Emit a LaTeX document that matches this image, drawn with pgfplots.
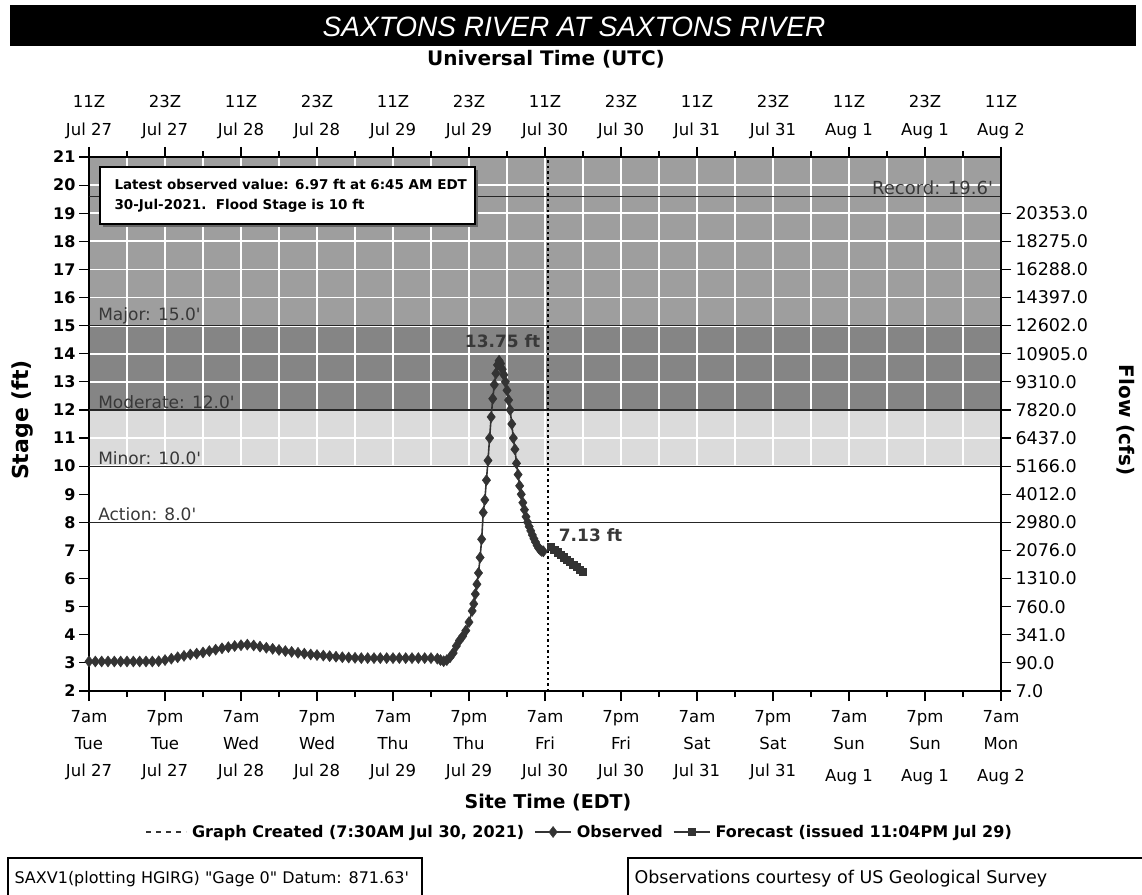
\documentclass[border=0pt]{standalone}
\usepackage{fontspec}
\setmainfont{DejaVu Sans}
\newfontfamily\titlefont{Liberation Sans}
\usepackage{pgfplots}
\pgfplotsset{compat=1.18}
\definecolor{bandMajor}{gray}{0.62}
\definecolor{bandMod}{gray}{0.52}
\definecolor{bandMin}{gray}{0.86}
\definecolor{dataC}{gray}{0.2}
\definecolor{lblC}{gray}{0.22}
\newcommand{\sq}{\textquotesingle}
\pgfplotstableread{
h s
0 3.05
1 3.05
2 3.05
3 3.05
4 3.05
5 3.05
6 3.05
7 3.05
8 3.05
9 3.05
10 3.05
11 3.06
12 3.10
13 3.15
14 3.20
15 3.25
16 3.30
17 3.33
18 3.37
19 3.42
20 3.47
21 3.52
22 3.56
23 3.60
24 3.63
25 3.65
26 3.62
27 3.58
28 3.54
29 3.50
30 3.46
31 3.42
32 3.39
33 3.36
34 3.33
35 3.30
36 3.28
37 3.26
38 3.24
39 3.22
40 3.20
41 3.19
42 3.18
43 3.17
44 3.17
45 3.17
46 3.17
47 3.17
48 3.17
49 3.17
50 3.17
51 3.17
52 3.17
53 3.17
54 3.17
55 3.15
55.5 3.10
56 3.06
56.5 3.10
57 3.20
57.5 3.35
58 3.60
58.5 3.80
59 3.95
59.5 4.15
60 4.45
60.5 4.85
60.75 5.10
61 5.45
61.25 5.80
61.5 6.20
61.75 6.75
62 7.40
62.25 8.35
62.5 8.80
62.75 9.50
63 10.20
63.25 11.00
63.5 11.75
63.75 12.40
64 12.90
64.25 13.30
64.5 13.60
64.75 13.75
65 13.65
65.25 13.45
65.5 13.25
65.75 13.00
66 12.70
66.25 12.35
66.5 12.00
66.75 11.50
67 11.00
67.25 10.60
67.5 10.10
67.75 9.70
68 9.30
68.25 9.00
68.5 8.70
68.75 8.45
69 8.20
69.25 8.00
69.5 7.85
69.75 7.70
70 7.55
70.25 7.42
70.5 7.30
70.75 7.18
71 7.08
71.25 7.02
71.5 6.98
71.75 6.97
}\observed
\pgfplotstableread{
h s
73 7.13
73.5 7.03
74 6.93
74.5 6.84
75 6.75
75.5 6.66
76 6.58
76.5 6.49
77 6.40
77.5 6.31
78 6.22
}\forecast
\begin{document}
\begin{tikzpicture}[x=1pt,y=1pt]
\useasboundingbox (0,0) rectangle (1142,894);
% title bar
\fill[black] (10,848) rectangle (1136,889);
\node[white,font=\titlefont\itshape\fontsize{28}{32}\selectfont] at (574,867) {SAXTONS RIVER AT SAXTONS RIVER};
\node[font=\bfseries\fontsize{20}{24}\selectfont] at (546,835) {Universal Time (UTC)};
% background bands axis
\begin{axis}[
  at={(89pt,203pt)}, anchor=south west,
  scale only axis, width=912pt, height=534pt,
  xmin=0, xmax=144, ymin=2, ymax=21,
  hide axis,
]
\fill[bandMajor] (axis cs:0,15) rectangle (axis cs:144,21);
\fill[bandMod] (axis cs:0,12) rectangle (axis cs:144,15);
\fill[bandMin] (axis cs:0,10) rectangle (axis cs:144,12);
\end{axis}
% main axis
\begin{axis}[
  at={(89pt,203pt)}, anchor=south west,
  scale only axis, width=912pt, height=534pt,
  xmin=0, xmax=144, ymin=2, ymax=21,
  axis line style={line width=1.4pt},
  tick align=outside,
  xtick pos=lower, ytick pos=left,
  xtick={0,12,...,144},
  minor xtick={6,18,...,138},
  ytick={2,...,21},
  major tick length=10pt, minor tick length=6pt,
  every tick/.style={black, line width=1.2pt},
  grid=both,
  major grid style={white, line width=1.8pt},
  minor grid style={white, line width=1.8pt},
  xticklabels={{7am\\Tue\\Jul 27},{7pm\\Tue\\Jul 27},{7am\\Wed\\Jul 28},{7pm\\Wed\\Jul 28},{7am\\Thu\\Jul 29},{7pm\\Thu\\Jul 29},{7am\\Fri\\Jul 30},{7pm\\Fri\\Jul 30},{7am\\Sat\\Jul 31},{7pm\\Sat\\Jul 31},{7am\\Sun\\[5pt]Aug 1},{7pm\\Sun\\[5pt]Aug 1},{7am\\Mon\\[5pt]Aug 2}},
  xticklabel style={align=center, font=\fontsize{16.5}{27}\selectfont, yshift=-6pt},
  /pgf/number format/assume math mode=true,
  yticklabel style={font=\bfseries\fontsize{16}{18}\selectfont},
  legend columns=3,
  legend style={draw=none, fill=none, at={(0.538,-0.264)}, anchor=center,
    font=\bfseries\fontsize{16}{18}\selectfont,
    /tikz/every odd column/.append style={column sep=3pt},
    /tikz/every even column/.append style={column sep=8pt}},
  legend image code/.code={\draw[mark repeat=2, mark phase=2, #1] plot coordinates {(0pt,0pt) (18pt,0pt) (36pt,0pt)};},
  legend cell align=left,
]
% threshold lines
\addplot[forget plot, black!85, line width=1.3pt] coordinates {(0,8) (144,8)};
\addplot[forget plot, black!85, line width=1.3pt] coordinates {(0,10) (144,10)};
\addplot[forget plot, black!85, line width=1.3pt] coordinates {(0,12) (144,12)};
\addplot[forget plot, black!85, line width=1.3pt] coordinates {(0,15) (144,15)};
\addplot[forget plot, black!85, line width=1.3pt] coordinates {(0,19.6) (144,19.6)};
% graph created line
\addplot[black, line width=1.6pt, dash pattern=on 2.5pt off 3pt,
  legend image code/.code={\draw[black!80, line width=1.6pt, dash pattern=on 5pt off 5pt] (0pt,0pt) -- (40pt,0pt);}]
  coordinates {(72.5,2) (72.5,21)};
\addlegendentry{Graph Created (7:30AM Jul 30, 2021)}
% observed
\addplot[dataC, line width=1.6pt, mark=diamond*, mark size=5.5pt, mark options={fill=dataC, draw=dataC, line width=0.5pt}] table[x=h, y=s] {\observed};
\addlegendentry{Observed}
% forecast
\addplot[dataC, line width=1.6pt, mark=square*, mark size=3.3pt, mark options={fill=dataC, draw=dataC}] table[x=h, y=s] {\forecast};
\addlegendentry{Forecast (issued 11:04PM Jul 29)}
% labels
\node[lblC, font=\fontsize{17}{19}\selectfont, anchor=south west, inner sep=1.5pt] at (axis cs:1.2,8) {Action: 8.0\sq};
\node[lblC, font=\fontsize{17}{19}\selectfont, anchor=south west, inner sep=1.5pt] at (axis cs:1.2,10) {Minor: 10.0\sq};
\node[lblC, font=\fontsize{17}{19}\selectfont, anchor=south west, inner sep=1.5pt] at (axis cs:1.2,12) {Moderate: 12.0\sq};
\node[lblC, font=\fontsize{17}{19}\selectfont, anchor=south west, inner sep=1.5pt] at (axis cs:1.2,15) {Major: 15.0\sq};
\node[lblC, font=\fontsize{18}{20}\selectfont, anchor=south east, inner sep=1.5pt] at (axis cs:143,19.6) {Record: 19.6\sq};
\node[lblC, font=\bfseries\fontsize{17}{19}\selectfont] at (axis cs:65.3,14.45) {13.75 ft};
\node[lblC, font=\bfseries\fontsize{17}{19}\selectfont] at (axis cs:79.2,7.55) {7.13 ft};
\end{axis}
% secondary axis: UTC on top, flow on right
\begin{axis}[
  at={(89pt,203pt)}, anchor=south west,
  scale only axis, width=912pt, height=534pt,
  xmin=0, xmax=144, ymin=2, ymax=21,
  axis x line*=top, axis y line*=right,
  axis line style={line width=1.4pt, -},
  tick align=outside,
  xtick={0,12,...,144},
  minor xtick={6,18,...,138},
  ytick={2,...,19},
  major tick length=10pt, minor tick length=6pt,
  every tick/.style={black, line width=1.2pt},
  xticklabels={{11Z\\Jul 27},{23Z\\Jul 27},{11Z\\Jul 28},{23Z\\Jul 28},{11Z\\Jul 29},{23Z\\Jul 29},{11Z\\Jul 30},{23Z\\Jul 30},{11Z\\Jul 31},{23Z\\Jul 31},{11Z\\Aug 1},{23Z\\Aug 1},{11Z\\Aug 2}},
  xticklabel style={align=center, font=\fontsize{16.5}{28}\selectfont, yshift=5pt},
  yticklabels={7.0,90.0,341.0,760.0,1310.0,2076.0,2980.0,4012.0,5166.0,6437.0,7820.0,9310.0,10905.0,12602.0,14397.0,16288.0,18275.0,20353.0},
  yticklabel style={font=\fontsize{17.5}{19}\selectfont, anchor=west, xshift=1pt},
]
\end{axis}
% axis titles
\node[font=\bfseries\fontsize{19}{22}\selectfont] at (548,91) {Site Time (EDT)};
\node[font=\bfseries\fontsize{22}{24}\selectfont, rotate=90] at (23,474) {Stage (ft)};
\node[font=\bfseries\fontsize{20}{22}\selectfont, rotate=-90] at (1126,474) {Flow (cfs)};
% info box
\fill[black!60] (103,667) rectangle (478,724);
\filldraw[fill=white, draw=black, line width=1.8pt] (100,670) rectangle (475,727);
\node[anchor=west, font=\bfseries\fontsize{13.5}{20}\selectfont, align=left] at (111,698) {Latest observed value: 6.97 ft at 6:45 AM EDT\\30-Jul-2021.\ \ Flood Stage is 10 ft};
% bottom boxes
\draw[line width=1.2pt] (8,-5) rectangle (422,36);
\node[anchor=west, font=\fontsize{16}{18}\selectfont] at (11,15) {SAXV1(plotting HGIRG) \textquotedbl Gage 0\textquotedbl\ Datum: 871.63\sq};
\draw[line width=1.2pt] (628,-5) rectangle (1150,36);
\node[anchor=west, font=\fontsize{17.5}{19}\selectfont] at (631,15) {Observations courtesy of US Geological Survey};
\end{tikzpicture}
\end{document}
